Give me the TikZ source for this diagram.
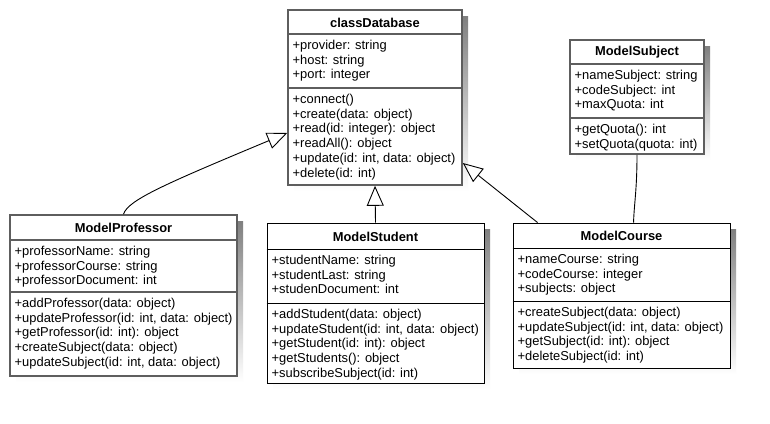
\documentclass[tikz,border=0pt]{standalone}
\usepackage{fontspec}
\setmainfont{Liberation Sans}
\usetikzlibrary{arrows.meta,fit}

\definecolor{shade}{HTML}{EBEBEB}
\definecolor{edgegray}{HTML}{5E5E5E}

\tikzset{
  gray box/.style={draw=edgegray, line width=1.6pt, inner sep=0pt, fill=white},
  gray rule/.style={draw=edgegray, line width=1.3pt},
  black box/.style={draw=black, line width=0.9pt, inner sep=0pt, fill=white},
  black rule/.style={draw=black, line width=0.9pt},
  classtitle/.style={inner sep=0pt, font=\fontsize{12.9}{14.8}\selectfont\bfseries},
  member/.style={anchor=base west, inner sep=0pt, font=\fontsize{12.9}{14.8}\selectfont},
  inherit/.style={-{Triangle[open,length=20pt,width=17pt,line width=0.9pt]}, line width=0.9pt},
  assoc/.style={line width=0.9pt},
}

% #1 name, #2 look (gray/black), #3 x1, #4 y1, #5 x2, #6 y2, #7 header bottom, #8 title
\newcommand\umlclass[8]{%
  \fill[shade] (#3+6,#4+6) rectangle (#5+6,#6+6);
  \node[#2 box, fit={(#3,#4) (#5,#6)}] (#1) {};
  \node[classtitle] (#1-title) at ({(#3+#5)/2},{(#4+#7)/2+0.5}) {#8};
  \draw[#2 rule] (#1.west |- 0,#7) -- (#1.east |- 0,#7);
}
% #1 prefix, #2 left x, #3 top of the compartment, #4 list of members
\newcommand\umlmembers[4]{%
  \foreach \t [count=\i] in {#4}
    \node[member] (#1-\i) at (#2+4.5, #3+15.2+\i*14.8-14.8) {\t};
}
% #1 node, #2 look, #3 y of the rule
\newcommand\umlrule[3]{%
  \draw[#2 rule] (#1.west |- 0,#3) -- (#1.east |- 0,#3);
}

\begin{document}
\begin{tikzpicture}[x=1pt,y=-1pt]
  \fill[white] (0,0) rectangle (770,423);
  \useasboundingbox (0,0) rectangle (770,423);

  % classDatabase
  \umlclass{db}{gray}{288}{10}{462}{185}{34}{classDatabase}
  \umlrule{db}{gray}{88}
  \umlmembers{dba}{288}{34}{{+provider: string},{+host: string},{+port: integer}}
  \umlmembers{dbm}{288}{88}{{+connect()},{+create(data: object)},{+read(id: integer): object},{+readAll(): object},{+update(id: int, data: object)},{+delete(id: int)}}

  % ModelProfessor
  \umlclass{prof}{gray}{10}{215}{237}{376}{240}{ModelProfessor}
  \umlrule{prof}{gray}{292}
  \umlmembers{profa}{10}{240}{{+professorName: string},{+professorCourse: string},{+professorDocument: int}}
  \umlmembers{profm}{10}{292}{{+addProfessor(data: object)},{+updateProfessor(id: int, data: object)},{+getProfessor(id: int): object},{+createSubject(data: object)},{+updateSubject(id: int, data: object)}}

  % ModelStudent
  \umlclass{stu}{black}{267}{223}{484}{383}{249}{ModelStudent}
  \umlrule{stu}{black}{303}
  \umlmembers{stua}{267}{249}{{+studentName: string},{+studentLast: string},{+studenDocument: int}}
  \umlmembers{stum}{267}{303}{{+addStudent(data: object)},{+updateStudent(id: int, data: object)},{+getStudent(id: int): object},{+getStudents(): object},{+subscribeSubject(id: int)}}

  % ModelCourse
  \umlclass{crs}{black}{513}{223}{730}{368}{248}{ModelCourse}
  \umlrule{crs}{black}{301}
  \umlmembers{crsa}{513}{248}{{+nameCourse: string},{+codeCourse: integer},{+subjects: object}}
  \umlmembers{crsm}{513}{301}{{+createSubject(data: object)},{+updateSubject(id: int, data: object)},{+getSubject(id: int): object},{+deleteSubject(id: int)}}

  % ModelSubject
  \umlclass{subj}{gray}{570}{40}{704}{154}{64}{ModelSubject}
  \umlrule{subj}{gray}{118}
  \umlmembers{subja}{570}{64}{{+nameSubject: string},{+codeSubject: int},{+maxQuota: int}}
  \umlmembers{subjm}{570}{118}{{+getQuota(): int},{+setQuota(quota: int)}}

  % inheritance and association
  \draw[inherit] (prof.north) .. controls (128,200) and (165,184) .. (db.west |- 0,133);
  \draw[inherit] (stu.north) -- (db.south);
  \draw[inherit] ([xshift=25pt]crs.north west) -- (db.east |- 0,163);
  \draw[assoc] (subj.south) .. controls (637,190) and (634,205) .. ([xshift=121pt]crs.north west);
\end{tikzpicture}
\end{document}
